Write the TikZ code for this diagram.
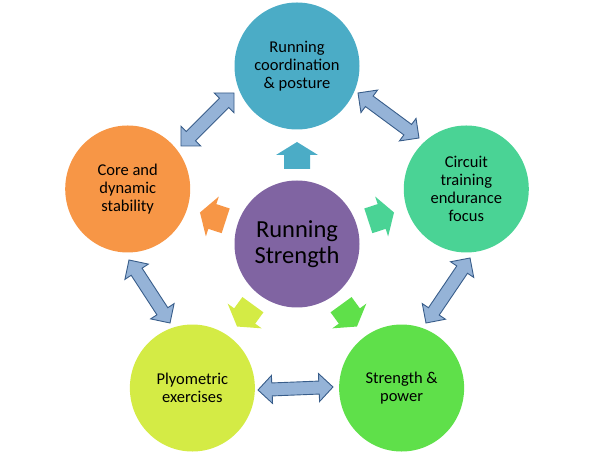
\documentclass[tikz,border=0pt]{standalone}
\usepackage{fontspec}
\setmainfont{Carlito}
\usetikzlibrary{shapes.geometric,calc}
\definecolor{ctop}{RGB}{75,172,198}
\definecolor{cleft}{RGB}{247,150,70}
\definecolor{cright}{RGB}{74,211,149}
\definecolor{cbr}{RGB}{95,224,74}
\definecolor{cbl}{RGB}{212,235,69}
\definecolor{ccen}{RGB}{128,100,162}
\definecolor{afill}{RGB}{149,179,215}
\definecolor{adraw}{RGB}{56,93,138}
\tikzset{
  circ/.style={ellipse, minimum width=125pt, minimum height=127pt, inner sep=0pt,
    align=center, text=black, font=\fontsize{16.5}{17.8}\selectfont},
  bigcirc/.style={circ, font=\fontsize{24.5}{25.5}\selectfont},
  dbl/.style={fill=afill, draw=adraw, line width=0.9pt, line join=miter},
}
\newcommand{\dblarrow}[2]{%
  \path ($(#1)!14pt!(#2)$) coordinate (#1#2p) ($(#2)!14pt!(#1)$) coordinate (#1#2q);
  \draw[dbl] (#1) -- ($(#1#2p)!14pt!90:(#2)$) -- ($(#1#2p)!6.5pt!90:(#2)$)
    -- ($(#1#2q)!6.5pt!90:(#2)$) -- ($(#1#2q)!14pt!90:(#2)$) -- (#2)
    -- ($(#1#2q)!14pt!-90:(#2)$) -- ($(#1#2q)!6.5pt!-90:(#2)$)
    -- ($(#1#2p)!6.5pt!-90:(#2)$) -- ($(#1#2p)!14pt!-90:(#2)$) -- cycle;}
\newcommand{\outarrow}[2]{%
  \fill[#2, rotate=#1] (75,-13) -- (89,-13) -- (89,-21) -- (102,0) -- (89,21)
    -- (89,13) -- (75,13) -- cycle;}
\begin{document}
\begin{tikzpicture}[x=1pt, y=1pt]
\useasboundingbox (-297,-210) rectangle (296,244);
% nodes
\node[bigcirc, fill=ccen] (cen) at (0,0) {Running\\Strength};
\node[circ, fill=ctop] (top) at (90:178) {Running\\coordination\\\& posture};
\node[circ, fill=cleft] (left) at (162:178) {Core and\\dynamic\\stability};
\node[circ, fill=cright] (right) at (18:178) {Circuit\\training\\endurance\\focus};
\node[circ, fill=cbl] (bl) at (234:178) {Plyometric\\exercises};
\node[circ, fill=cbr] (br) at (306:178) {Strength \&\\power};
% outward arrows from the centre
\begin{scope}[shift={(cen.center)}]
\outarrow{90}{ctop}
\outarrow{162}{cleft}
\outarrow{18}{cright}
\outarrow{234}{cbl}
\outarrow{306}{cbr}
\end{scope}
% double arrows between neighbours
\coordinate (ltA) at (-116,98);  \coordinate (ltB) at (-63,151);
\coordinate (trA) at (61,151);   \coordinate (trB) at (122,106);
\coordinate (lbA) at (-168,-16); \coordinate (lbB) at (-127,-79);
\coordinate (rbA) at (173,-14);  \coordinate (rbB) at (129,-79);
\coordinate (bbA) at (-39,-146); \coordinate (bbB) at (36,-143);
\dblarrow{ltA}{ltB}
\dblarrow{trA}{trB}
\dblarrow{lbA}{lbB}
\dblarrow{rbA}{rbB}
\dblarrow{bbA}{bbB}
\end{tikzpicture}
\end{document}
